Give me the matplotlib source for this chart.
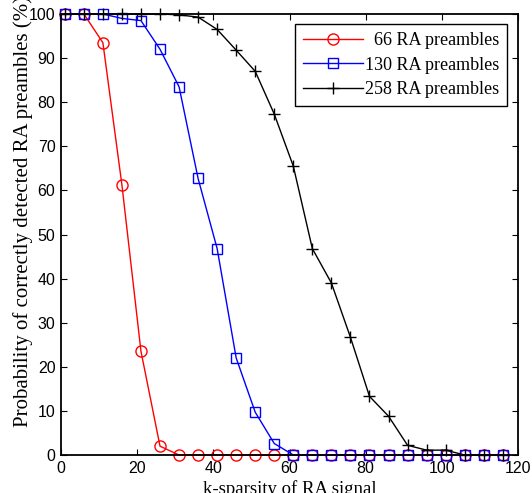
import numpy as np
import matplotlib
matplotlib.use('Agg')
import matplotlib.pyplot as plt

## data
k = [1, 6, 11, 16, 21, 26, 31, 36, 41, 46, 51, 56, 61, 66, 71, 76, 81, 86,
     91, 96, 101, 106, 111, 116]
p66 = [100, 100, 93.5, 61.2, 23.5, 2.0, 0, 0, 0, 0, 0, 0, 0, 0, 0, 0, 0, 0,
       0, 0, 0, 0, 0, 0]
p130 = [100, 100, 100, 99.0, 98.5, 92.0, 83.5, 62.7, 46.8, 22.0, 9.7, 2.6,
        0, 0, 0, 0, 0, 0, 0, 0, 0, 0, 0, 0]
p258 = [100, 100, 100, 100, 100, 100, 99.8, 99.3, 96.5, 91.8, 87.0, 77.3,
        65.5, 46.8, 39.0, 26.7, 13.3, 8.8, 2.2, 1.1, 1.1, 0, 0, 0]
labels = ['  66 RA preambles', '130 RA preambles', '258 RA preambles']
xticks = [0, 20, 40, 60, 80, 100, 120]
yticks = [0, 10, 20, 30, 40, 50, 60, 70, 80, 90, 100]

serif = 'Liberation Serif'
sans = 'Liberation Sans'

W, H = 532, 493
fig = plt.figure(figsize=(W / 100, H / 100), dpi=100)
ax = fig.add_axes([61 / W, 1 - 455 / H, (518 - 61) / W, (455 - 14) / H])

ax.plot(k, p66, '-o', color='#ff0000', lw=1.0, ms=8, mfc='none', mew=1.0,
        clip_on=False, label=labels[0])
ax.plot(k, p130, '-s', color='#0000ff', lw=1.0, ms=7.5, mfc='none', mew=1.0,
        clip_on=False, label=labels[1])
ax.plot(k, p258, '-+', color='black', lw=1.0, ms=8.5, mew=1.0,
        clip_on=False, label=labels[2])

ax.set_xlim(0, 120)
ax.set_ylim(0, 100)
ax.set_xticks(xticks)
ax.set_yticks(yticks)
ax.tick_params(direction='in', top=True, right=True, length=4, width=0.8,
               labelsize=11.5, pad=4)
for t in ax.get_xticklabels() + ax.get_yticklabels():
    t.set_fontfamily(sans)
for s in ax.spines.values():
    s.set_linewidth(1.3)

ax.set_xlabel('k-sparsity of RA signal', fontfamily=serif, fontsize=13.5)
ax.xaxis.set_label_coords(0.5, -0.058, transform=ax.transAxes)
ax.xaxis.label.set_va('top')
ax.set_ylabel('Probability of correctly detected RA preambles (%)',
              fontfamily=serif, fontsize=15)
ax.yaxis.set_label_coords(33 / W, 1 - 211 / H, transform=fig.transFigure)

leg = ax.legend(loc='upper right', bbox_to_anchor=(507 / W, 1 - 24 / H),
                bbox_transform=fig.transFigure, prop={'family': serif, 'size': 13},
                handlelength=3.3, handletextpad=0.1, borderpad=0.45,
                labelspacing=0.42, fancybox=False, framealpha=1,
                edgecolor='black', borderaxespad=0)
leg.get_frame().set_linewidth(1.0)

fig.savefig('out.png', dpi=100)
